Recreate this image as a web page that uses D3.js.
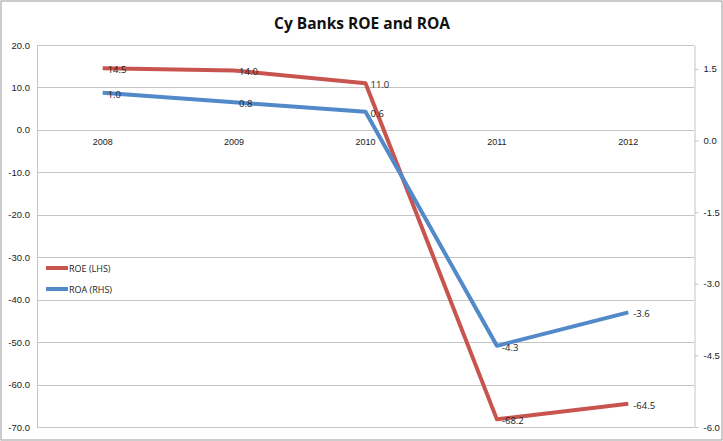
<!DOCTYPE html>
<html><head><meta charset="utf-8">
<script src="https://cdn.jsdelivr.net/npm/d3@7"></script>
<style>body{margin:0;background:#fff;}svg{display:block;font-family:"Open Sans","Liberation Sans",sans-serif;}</style>
</head><body>
<svg id="c" width="723" height="441"></svg>
<script>
const years = ["2008","2009","2010","2011","2012"];
const roe = [14.5, 14.0, 11.0, -68.2, -64.5];
const roa = [1.0, 0.8, 0.6, -4.3, -3.6];
const leftTicks = [20,10,0,-10,-20,-30,-40,-50,-60,-70];
const rightTicks = [1.5,0,-1.5,-3,-4.5,-6];
const title = "Cy Banks ROE and ROA";

const svg = d3.select("#c");
const L = 37, R = 694, T = 45, B = 427;
const x = d3.scaleBand().domain(years).range([L, R]);
const yL = d3.scaleLinear().domain([-70, 20]).range([B, T]);
const yR = d3.scaleLinear().domain([-6, 2]).range([B, T]);
const red = "#C8544F", blue = "#5289C8";
const fmt = d => (+d).toFixed(1);

svg.append("rect").attr("x",1).attr("y",1).attr("width",721).attr("height",439)
  .attr("fill","#fff").attr("stroke","#9a9a9a").attr("stroke-width",1);

svg.append("text").attr("x",362).attr("y",29).attr("text-anchor","middle")
  .attr("font-size",15.5).attr("font-weight","bold").attr("fill","#111").text(title);

// gridlines
svg.append("g").selectAll("line").data(leftTicks).join("line")
  .attr("x1",L).attr("x2",R).attr("y1",d=>Math.round(yL(d))+0.5).attr("y2",d=>Math.round(yL(d))+0.5)
  .attr("stroke","#c4c4c4").attr("stroke-width",1);
svg.append("line").attr("x1",L+0.5).attr("x2",L+0.5).attr("y1",T).attr("y2",B).attr("stroke","#c4c4c4");

// left axis
const gl = svg.append("g").attr("transform",`translate(${L},0)`)
  .call(d3.axisLeft(yL).tickValues(leftTicks).tickFormat(fmt).tickSize(0).tickPadding(7));
gl.select(".domain").remove();
gl.selectAll("text").attr("font-size",9.5).attr("fill","#222").attr("font-family","inherit");

// right axis
const gr = svg.append("g").attr("transform",`translate(${R+0.5},0)`)
  .call(d3.axisRight(yR).tickValues(rightTicks).tickFormat(fmt).tickSize(4).tickSizeOuter(0).tickPadding(5));
gr.select(".domain").attr("stroke","#c4c4c4");
gr.selectAll(".tick line").attr("stroke","#c4c4c4");
gr.selectAll("text").attr("font-size",9.5).attr("fill","#222").attr("font-family","inherit");

// category labels
const gx = svg.append("g").attr("transform",`translate(0,${yL(0)})`)
  .call(d3.axisBottom(x).tickSize(0).tickPadding(9));
gx.select(".domain").remove();
gx.selectAll("text").attr("font-size",9).attr("fill","#222").attr("font-family","inherit");

const cx = d => x(d) + x.bandwidth()/2;
const lineL = d3.line().x((d,i)=>cx(years[i])).y(d=>yL(d));
const lineR = d3.line().x((d,i)=>cx(years[i])).y(d=>yR(d));
svg.append("path").attr("d",lineL(roe)).attr("fill","none").attr("stroke",red).attr("stroke-width",4).attr("stroke-linejoin","round");
svg.append("path").attr("d",lineR(roa)).attr("fill","none").attr("stroke",blue).attr("stroke-width",4).attr("stroke-linejoin","round");

// data labels
svg.append("g").selectAll("text").data(roe).join("text")
  .attr("x",(d,i)=>cx(years[i])+5).attr("y",d=>yL(d)+5)
  .attr("font-size",9.5).attr("fill","#222").text(d=>fmt(d));
svg.append("g").selectAll("text").data(roa).join("text")
  .attr("x",(d,i)=>cx(years[i])+5).attr("y",d=>yR(d)+5)
  .attr("font-size",9.5).attr("fill","#222").text(d=>fmt(d));

// legend
const leg = [{n:"ROE (LHS)",c:red},{n:"ROA (RHS)",c:blue}];
const lg = svg.append("g").selectAll("g").data(leg).join("g")
  .attr("transform",(d,i)=>`translate(46,${268+i*21})`);
lg.append("line").attr("x1",0).attr("x2",22).attr("stroke",d=>d.c).attr("stroke-width",4);
lg.append("text").attr("x",23).attr("y",3.5).attr("font-size",9).attr("fill","#222").text(d=>d.n);
</script>
</body></html>
